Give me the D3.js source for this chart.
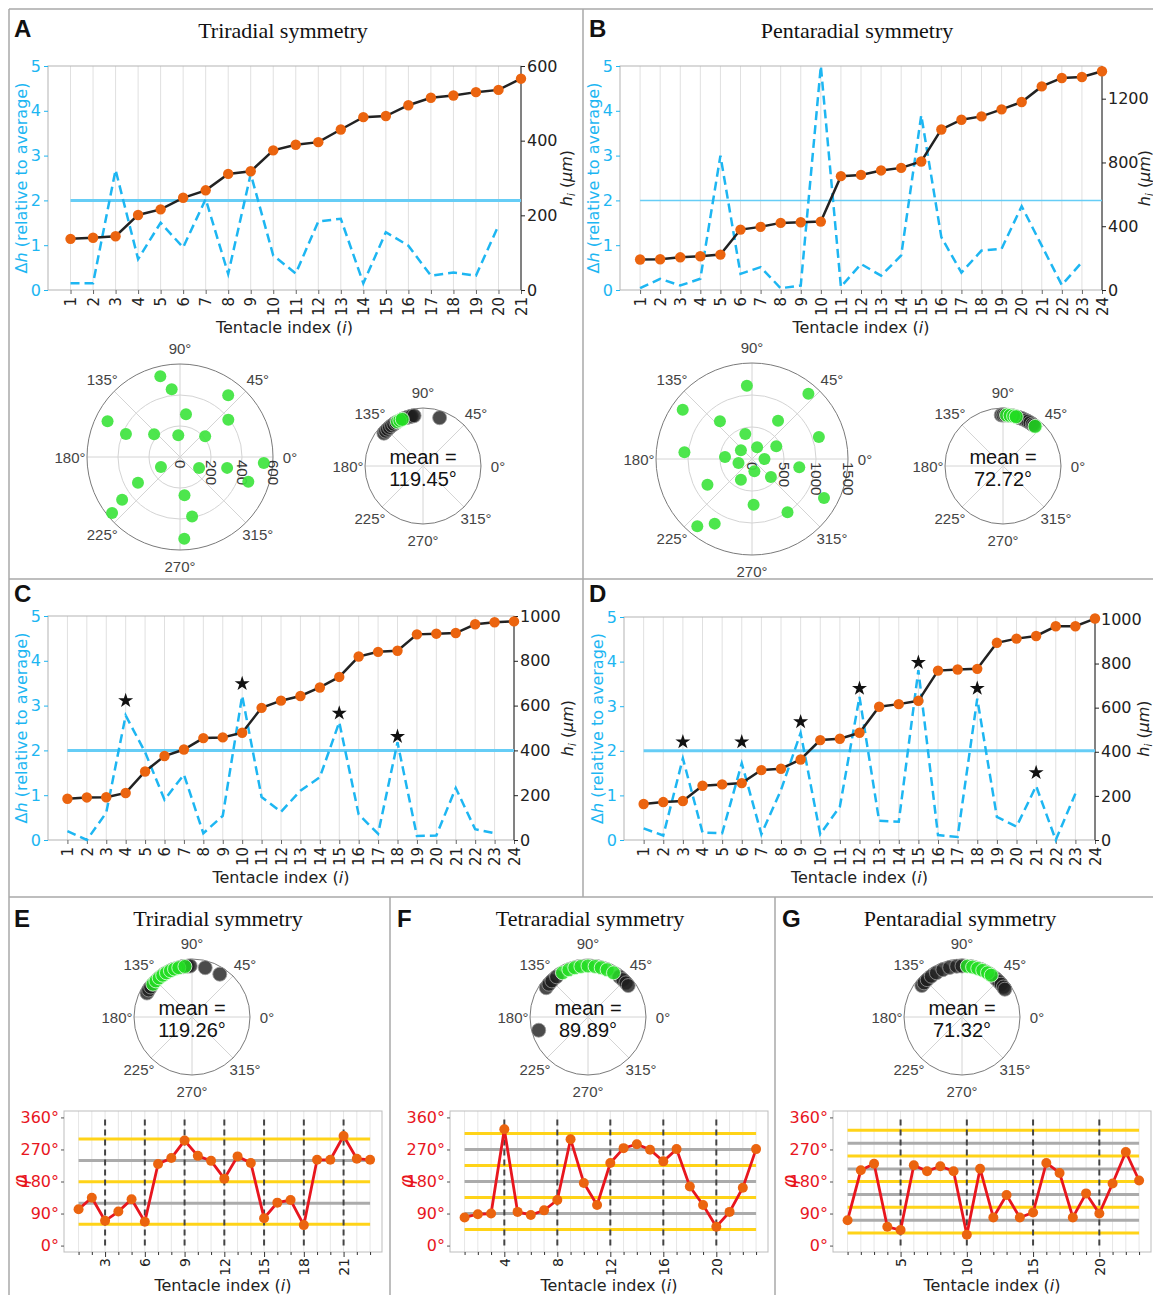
<!DOCTYPE html>
<html>
<head>
<meta charset="utf-8">
<script src="https://cdn.jsdelivr.net/npm/d3@7"></script>
<style>
  body { margin: 0; background: #fff; }
  svg { display: block; }
</style>
</head>
<body>
<div id="fig"></div>
<script>
// ---- data ----
const A_DH = [0.15, 0.15, 2.68, 0.69, 1.5, 0.95, 2.03, 0.36, 2.59, 0.77, 0.37, 1.53, 1.59, 0.15, 1.29, 0.99, 0.32, 0.39, 0.32, 1.44];
const A_H = [137, 140, 144, 201, 216, 247, 267, 311, 318, 374, 389, 396, 430, 463, 466, 495, 515, 521, 530, 536, 566];
const A_H_TICKS = [0, 200, 400, 600];

const B_DH = [0.04, 0.25, 0.1, 0.25, 3.0, 0.36, 0.51, 0.04, 0.1, 5.0, 0.07, 0.58, 0.32, 0.77, 3.9, 1.18, 0.39, 0.88, 0.92, 1.87, 0.99, 0.11, 0.62];
const B_H = [191, 193, 205, 212, 222, 379, 396, 421, 425, 429, 714, 722, 750, 766, 806, 1007, 1068, 1089, 1133, 1179, 1277, 1330, 1336, 1372];
const B_H_TICKS = [0, 400, 800, 1200];

const C_DH = [0.2, 0.0, 0.61, 2.78, 1.96, 0.9, 1.46, 0.15, 0.54, 3.22, 0.96, 0.63, 1.1, 1.4, 2.63, 0.57, 0.14, 2.18, 0.09, 0.1, 1.16, 0.24, 0.15];
const C_H = [184, 190, 191, 210, 306, 375, 404, 455, 458, 479, 590, 622, 643, 681, 728, 819, 840, 845, 918, 921, 924, 963, 972, 976];
const C_STAR_I = [4, 10, 15, 18];
const C_STAR_Y = [3.11, 3.49, 2.83, 2.31];

const D_DH = [0.26, 0.1, 1.83, 0.17, 0.15, 1.72, 0.13, 1.12, 2.4, 0.13, 0.75, 3.21, 0.43, 0.41, 3.81, 0.11, 0.07, 3.17, 0.52, 0.3, 1.21, 0.0, 1.04];
const D_H = [163, 172, 177, 246, 252, 258, 317, 323, 365, 453, 459, 486, 604, 616, 631, 768, 773, 776, 894, 913, 925, 969, 969, 1004];
const D_STAR_I = [3, 6, 9, 12, 15, 18, 21];
const D_STAR_Y = [2.2, 2.2, 2.65, 3.4, 3.98, 3.4, 1.51];
const CD_H_TICKS = [0, 200, 400, 600, 800, 1000];
const DH_TICKS = [0, 1, 2, 3, 4, 5];

const A_POL_ANG = [103.7, 97, 52, 82, 37.7, 153.8, 157, 138.8, 94.5, 39.4, 355.9, 207.8, 330, 347, 340, 211.5, 216.4, 219.5, 276.7, 281.5, 273];
const A_POL_R = [536, 440, 505, 278, 394, 521, 379, 222, 141, 210, 542, 139, 142, 312, 469, 318, 464, 568, 249, 391, 528];
const B_POL_ANG = [94, 49.2, 144.6, 130.4, 55.8, 18.2, 105, 174.3, 142, 66.4, 27.6, 175.8, 196.5, 0, 281, 350, 241.8, 316.4, 210, 331.6, 272, 303.7, 240, 230.9];
const B_POL_R = [1148, 1349, 1328, 773, 724, 1100, 405, 1061, 220, 199, 428, 423, 220, 195, 196, 750, 367, 408, 804, 1279, 714, 1000, 1166, 1355];

const A_MEAN_DARK = [140, 137, 134, 131, 128, 125, 122, 108, 105, 103, 100, 71];
const A_MEAN_GREEN = [120, 117, 114];
const B_MEAN_DARK = [92, 90, 88, 84, 72, 68, 64, 61, 58, 55, 53];
const B_MEAN_GREEN = [86, 82, 78, 75, 51];
const E_MEAN_DARK = [152, 148, 144, 100, 95, 92, 75, 57];
const E_MEAN_GREEN = [140, 135, 130, 125, 120, 115, 110, 105, 98];
const F_MEAN_DARK = [145, 140, 135, 128, 52, 47, 42, 38, 195];
const F_MEAN_GREEN = [120, 112, 105, 98, 90, 82, 75, 68, 60];
const G_MEAN_DARK = [142, 138, 133, 127, 120, 112, 104, 96, 90, 48, 44, 40, 36, 33];
const G_MEAN_GREEN = [84, 78, 72, 66, 60, 55];

const E_PHI = [102, 134.5, 69.6, 95.6, 130, 66.8, 229, 246, 295, 252, 238, 188, 250.5, 232, 77, 120.6, 128, 57.5, 241, 241, 308, 244, 241];
const F_PHI = [79, 88, 90, 326.6, 94.6, 86, 99, 128, 298.8, 176, 114, 231.9, 273.7, 284.8, 269, 236.6, 271, 166, 114, 53, 94.6, 162.4, 271];
const G_PHI = [71.4, 211.5, 230, 52.9, 43.6, 225.4, 208.7, 222.7, 208.7, 30.6, 216, 78.9, 142, 78.9, 92.8, 232, 204, 78.9, 146.6, 90, 174.4, 263, 182.8];
const E_GOLD = [59.63, 179.63, 299.63];
const E_GRAY = [119.26, 239.26];
const E_MARK = [3, 6, 9, 12, 15, 18, 21];
const F_GOLD = [44.95, 134.95, 224.95, 314.95];
const F_GRAY = [89.89, 179.89, 269.89];
const F_MARK = [4, 8, 12, 16, 20];
const G_GOLD = [35.66, 107.66, 179.66, 251.66, 323.66];
const G_GRAY = [71.32, 143.32, 215.32, 287.32];
const G_MARK = [5, 10, 15, 20];
const PHI_TICKS = [0, 90, 180, 270, 360];

// ---- colours ----
const BLUE = "#1DB6F2";
const BLUE_REF = "#66CDF6";
const ORANGE = "#EB640F";
const RED = "#E8161E";
const GOLD = "#FFD318";
const GREY_LINE = "#ABABAB";
const GREEN = "#3EE43E";
const SANS = "'DejaVu Sans'";
const ARIAL = "'Liberation Sans'";

const SVG = d3.select("#fig").append("svg").attr("width", 1153).attr("height", 1295);

// panel frame lines
const FRAME = [
  [9, 9, 1153, 9], [9, 9, 9, 1295], [583, 9, 583, 897],
  [9, 579, 1153, 579], [9, 897, 1153, 897], [390, 897, 390, 1295], [775, 897, 775, 1295]
];
SVG.selectAll(".frame").data(FRAME).enter().append("line")
  .attr("x1", d => d[0]).attr("y1", d => d[1]).attr("x2", d => d[2]).attr("y2", d => d[3])
  .attr("stroke", "#a8a8a8").attr("stroke-width", 1.5);

// panel letters and titles
const LETTERS = [["A", 14, 37], ["B", 589, 37], ["C", 14, 602], ["D", 589, 602], ["E", 14, 927], ["F", 397, 927], ["G", 782, 927]];
SVG.selectAll(".letter").data(LETTERS).enter().append("text")
  .attr("x", d => d[1]).attr("y", d => d[2]).text(d => d[0])
  .style("font", `bold 24px ${ARIAL}`).attr("fill", "#111");
const TITLES = [["Triradial symmetry", 283, 38], ["Pentaradial symmetry", 857, 38],
  ["Triradial symmetry", 218, 926], ["Tetraradial symmetry", 590, 926], ["Pentaradial symmetry", 960, 926]];
SVG.selectAll(".title").data(TITLES).enter().append("text")
  .attr("x", d => d[1]).attr("y", d => d[2]).attr("text-anchor", "middle").text(d => d[0])
  .style("font", "22px 'Liberation Serif'").attr("fill", "#111");

function xLabel(g, cx, y) {
  const t = g.append("text").attr("x", cx).attr("y", y).attr("text-anchor", "middle")
    .style("font", `16px ${SANS}`).attr("fill", "#222");
  t.append("tspan").text("Tentacle index (");
  t.append("tspan").style("font-style", "italic").text("i");
  t.append("tspan").text(")");
}

// ---- Δh / h charts ----
function dualChart(o) {
  const g = SVG.append("g");
  const n = o.h.length;
  const x = d3.scaleLinear().domain([0, n]).range([o.left, o.right]);
  const yL = d3.scaleLinear().domain([0, 5]).range([o.bottom, o.top]);
  const yR = d3.scaleLinear().domain([0, o.hMax]).range([o.bottom, o.top]);
  const idx = d3.range(1, n + 1);

  g.selectAll(".grid").data(idx).enter().append("line")
    .attr("x1", d => x(d)).attr("x2", d => x(d)).attr("y1", o.top).attr("y2", o.bottom)
    .attr("stroke", "#e0e0e0");
  g.append("rect").attr("x", o.left).attr("y", o.top)
    .attr("width", o.right - o.left).attr("height", o.bottom - o.top)
    .attr("fill", "none").attr("stroke", "#b3b3b3");
  g.append("line").attr("x1", o.right).attr("x2", o.right).attr("y1", o.top).attr("y2", o.bottom)
    .attr("stroke", "#333");

  const axB = g.append("g").attr("transform", `translate(0,${o.bottom})`)
    .call(d3.axisBottom(x).tickValues(idx).tickSize(4).tickFormat(d3.format("d")));
  axB.select(".domain").remove();
  axB.selectAll("line").attr("stroke", "#666");
  axB.selectAll("text").attr("transform", "rotate(-90)").attr("text-anchor", "end")
    .attr("x", -7).attr("y", 0).attr("dy", "0.35em")
    .style("font", `15px ${SANS}`).attr("fill", "#222");

  const axL = g.append("g").attr("transform", `translate(${o.left},0)`)
    .call(d3.axisLeft(yL).tickValues(DH_TICKS).tickSize(4).tickPadding(3).tickFormat(d3.format("d")));
  axL.select(".domain").remove();
  axL.selectAll("line").attr("stroke", BLUE);
  axL.selectAll("text").attr("fill", BLUE).style("font", `16px ${SANS}`);

  const axR = g.append("g").attr("transform", `translate(${o.right},0)`)
    .call(d3.axisRight(yR).tickValues(o.hTicks).tickSize(4).tickPadding(2).tickFormat(d3.format("d")));
  axR.select(".domain").remove();
  axR.selectAll("line").attr("stroke", "#222");
  axR.selectAll("text").attr("fill", "#222").style("font", `16px ${SANS}`);

  // labels
  const midY = (o.top + o.bottom) / 2;
  const lt = g.append("text").attr("transform", `translate(${o.left - 27},${midY}) rotate(-90)`)
    .attr("text-anchor", "middle").attr("dominant-baseline", "central")
    .style("font", `16px ${SANS}`).attr("fill", BLUE);
  lt.append("tspan").text("Δ");
  lt.append("tspan").style("font-style", "italic").text("h");
  lt.append("tspan").text(" (relative to average)");

  const rt = g.append("text").attr("transform", `translate(${o.right + o.rLab},${midY}) rotate(-90)`)
    .attr("text-anchor", "middle").attr("dominant-baseline", "central")
    .style("font", `16px ${SANS}`).attr("fill", "#222");
  rt.append("tspan").style("font-style", "italic").text("h");
  rt.append("tspan").style("font-style", "italic").style("font-size", "10px").attr("dy", 5).text("i");
  rt.append("tspan").attr("dy", -5).text("  (");
  rt.append("tspan").style("font-style", "italic").text("μm");
  rt.append("tspan").text(")");

  xLabel(g, (o.left + o.right) / 2, o.bottom + 43);

  // threshold line at Δh = 2
  g.append("line").attr("x1", x(1)).attr("x2", x(n)).attr("y1", yL(2)).attr("y2", yL(2))
    .attr("stroke", BLUE_REF).attr("stroke-width", o.refW);

  g.append("path").datum(o.dh)
    .attr("d", d3.line().x((d, i) => x(i + 1)).y(d => yL(d)))
    .attr("fill", "none").attr("stroke", BLUE).attr("stroke-width", 2.5)
    .attr("stroke-dasharray", "9,5");

  if (o.starI) {
    g.selectAll(".star").data(o.starI).enter().append("path")
      .attr("d", d3.symbol().type(d3.symbolStar).size(70))
      .attr("transform", (d, i) => `translate(${x(d)},${yL(o.starY[i])})`)
      .attr("fill", "#111");
  }

  g.append("path").datum(o.h)
    .attr("d", d3.line().x((d, i) => x(i + 1)).y(d => yR(d)))
    .attr("fill", "none").attr("stroke", "#222").attr("stroke-width", 2.5);
  g.selectAll(".hdot").data(o.h).enter().append("circle")
    .attr("cx", (d, i) => x(i + 1)).attr("cy", d => yR(d)).attr("r", 5.2)
    .attr("fill", ORANGE);
}

dualChart({ left: 48, right: 521, top: 66, bottom: 290, dh: A_DH, h: A_H, hMax: 600, hTicks: A_H_TICKS, rLab: 45, refW: 3 });
dualChart({ left: 620, right: 1102, top: 66, bottom: 290, dh: B_DH, h: B_H, hMax: 1405, hTicks: B_H_TICKS, rLab: 42, refW: 1.5 });
dualChart({ left: 48, right: 514, top: 616, bottom: 840, dh: C_DH, h: C_H, hMax: 1000, hTicks: CD_H_TICKS, rLab: 53, refW: 3, starI: C_STAR_I, starY: C_STAR_Y });
dualChart({ left: 624, right: 1095, top: 617, bottom: 840, dh: D_DH, h: D_H, hMax: 1011, hTicks: CD_H_TICKS, rLab: 48, refW: 3, starI: D_STAR_I, starY: D_STAR_Y });

// ---- polar plots ----
const rad = d => d * Math.PI / 180;

function polarBase(g, R) {
  g.selectAll(".spoke").data([0, 45, 90, 135]).enter().append("line")
    .attr("x1", d => -R * Math.cos(rad(d))).attr("y1", d => R * Math.sin(rad(d)))
    .attr("x2", d => R * Math.cos(rad(d))).attr("y2", d => -R * Math.sin(rad(d)))
    .attr("stroke", "#d4d4d4");
  g.append("circle").attr("r", R).attr("fill", "none").attr("stroke", "#7a7a7a");
  g.selectAll(".alab").data(d3.range(0, 360, 45)).enter().append("text")
    .attr("x", d => (R + 17) * Math.cos(rad(d))).attr("y", d => -(R + 16) * Math.sin(rad(d)))
    .attr("text-anchor", "middle").attr("dominant-baseline", "central")
    .style("font", `15px ${ARIAL}`).attr("fill", "#444").text(d => d + "°");
}

function bigPolar(o) {
  const g = SVG.append("g").attr("transform", `translate(${o.cx},${o.cy})`);
  const r = d3.scaleLinear().domain([0, o.rMax]).range([0, o.R]);
  g.selectAll(".ring").data(o.rTicks.slice(1, -1)).enter().append("circle")
    .attr("r", d => r(d)).attr("fill", "none").attr("stroke", "#d4d4d4");
  polarBase(g, o.R);
  g.selectAll(".rlab").data(o.rTicks).enter().append("text")
    .attr("transform", d => `translate(${r(d)},3) rotate(90)`)
    .attr("dominant-baseline", "central")
    .style("font", `15px ${ARIAL}`).attr("fill", "#333").text(d => d);
  g.selectAll(".pt").data(o.ang).enter().append("circle")
    .attr("cx", (d, i) => r(o.r[i]) * Math.cos(rad(d)))
    .attr("cy", (d, i) => -r(o.r[i]) * Math.sin(rad(d)))
    .attr("r", 6).attr("fill", GREEN).attr("opacity", 0.92);
}

function meanPolar(o) {
  const R = 58;
  const g = SVG.append("g").attr("transform", `translate(${o.cx},${o.cy})`);
  polarBase(g, R);
  const pr = R * 0.88;
  g.selectAll(".dk").data(o.dark).enter().append("circle")
    .attr("cx", d => pr * Math.cos(rad(d))).attr("cy", d => -pr * Math.sin(rad(d)))
    .attr("r", 7).attr("fill", "#1e1e1e").attr("fill-opacity", 0.8)
    .attr("stroke", "#9a9a9a").attr("stroke-width", 0.8);
  g.selectAll(".gr").data(o.green).enter().append("circle")
    .attr("cx", d => pr * Math.cos(rad(d))).attr("cy", d => -pr * Math.sin(rad(d)))
    .attr("r", 7).attr("fill", "#22DD22").attr("fill-opacity", 0.85)
    .attr("stroke", "#e8ffe8").attr("stroke-width", 0.8);
  g.append("text").attr("y", -9).attr("text-anchor", "middle").attr("dominant-baseline", "central")
    .style("font", `20px ${ARIAL}`).attr("fill", "#111").text("mean =");
  g.append("text").attr("y", 13).attr("text-anchor", "middle").attr("dominant-baseline", "central")
    .style("font", `20px ${ARIAL}`).attr("fill", "#111").text(o.mean);
}

bigPolar({ cx: 180, cy: 457, R: 93, rMax: 600, rTicks: [0, 200, 400, 600], ang: A_POL_ANG, r: A_POL_R });
bigPolar({ cx: 752, cy: 459, R: 96, rMax: 1500, rTicks: [0, 500, 1000, 1500], ang: B_POL_ANG, r: B_POL_R });
meanPolar({ cx: 423, cy: 466, dark: A_MEAN_DARK, green: A_MEAN_GREEN, mean: "119.45°" });
meanPolar({ cx: 1003, cy: 466, dark: B_MEAN_DARK, green: B_MEAN_GREEN, mean: "72.72°" });
meanPolar({ cx: 192, cy: 1017, dark: E_MEAN_DARK, green: E_MEAN_GREEN, mean: "119.26°" });
meanPolar({ cx: 588, cy: 1017, dark: F_MEAN_DARK, green: F_MEAN_GREEN, mean: "89.89°" });
meanPolar({ cx: 962, cy: 1017, dark: G_MEAN_DARK, green: G_MEAN_GREEN, mean: "71.32°" });

// ---- phase charts ----
function phaseChart(o) {
  const g = SVG.append("g");
  const top = 1111, bottom = 1252;
  const n = o.phi.length;
  const x = d3.scaleLinear().domain([-0.1, 23.9]).range([o.left, o.left + 318]);
  const y = d3.scaleLinear().domain([-18, 378]).range([bottom, top]);
  const idx = d3.range(1, n + 1);

  g.selectAll(".grid").data(idx).enter().append("line")
    .attr("x1", d => x(d)).attr("x2", d => x(d)).attr("y1", top).attr("y2", bottom)
    .attr("stroke", "#e6e6e6");
  g.append("rect").attr("x", o.left).attr("y", top).attr("width", 318).attr("height", bottom - top)
    .attr("fill", "none").attr("stroke", "#bdbdbd");

  const axB = g.append("g").attr("transform", `translate(0,${bottom})`)
    .call(d3.axisBottom(x).tickValues(idx).tickSize(3).tickFormat(d => o.marks.includes(d) ? d : ""));
  axB.select(".domain").remove();
  axB.selectAll("line").attr("stroke", "#333").attr("y2", d => o.marks.includes(d) ? 5 : 3);
  axB.selectAll("text").attr("transform", "rotate(-90)").attr("text-anchor", "end")
    .attr("x", -6).attr("y", 0).attr("dy", "0.35em")
    .style("font", `14px ${SANS}`).attr("fill", "#222");

  const axL = g.append("g").attr("transform", `translate(${o.left},0)`)
    .call(d3.axisLeft(y).tickValues(PHI_TICKS).tickSize(3).tickPadding(2).tickFormat(d => d + "°"));
  axL.select(".domain").remove();
  axL.selectAll("line").attr("stroke", "#555");
  axL.selectAll("text").attr("fill", RED).style("font", `16px ${SANS}`);

  g.append("text").attr("transform", `translate(${o.left - 44},${y(180)}) rotate(-90)`)
    .attr("text-anchor", "middle").attr("dominant-baseline", "central")
    .style("font", `italic 20px ${SANS}`).attr("fill", RED).text("φ");

  xLabel(g, o.left + 159, 1291);

  g.selectAll(".gray").data(o.gray).enter().append("line")
    .attr("x1", x(1)).attr("x2", x(n)).attr("y1", d => y(d)).attr("y2", d => y(d))
    .attr("stroke", GREY_LINE).attr("stroke-width", 3);
  g.selectAll(".gold").data(o.gold).enter().append("line")
    .attr("x1", x(1)).attr("x2", x(n)).attr("y1", d => y(d)).attr("y2", d => y(d))
    .attr("stroke", GOLD).attr("stroke-width", 3);
  g.selectAll(".mark").data(o.marks).enter().append("line")
    .attr("x1", d => x(d)).attr("x2", d => x(d)).attr("y1", y(0)).attr("y2", y(360))
    .attr("stroke", "#444").attr("stroke-width", 2).attr("stroke-dasharray", "6,4");

  g.append("path").datum(o.phi)
    .attr("d", d3.line().x((d, i) => x(i + 1)).y(d => y(d)))
    .attr("fill", "none").attr("stroke", RED).attr("stroke-width", 2.8);
  g.selectAll(".dot").data(o.phi).enter().append("circle")
    .attr("cx", (d, i) => x(i + 1)).attr("cy", d => y(d)).attr("r", 5)
    .attr("fill", ORANGE);
}

phaseChart({ left: 64, phi: E_PHI, gold: E_GOLD, gray: E_GRAY, marks: E_MARK });
phaseChart({ left: 450, phi: F_PHI, gold: F_GOLD, gray: F_GRAY, marks: F_MARK });
phaseChart({ left: 833, phi: G_PHI, gold: G_GOLD, gray: G_GRAY, marks: G_MARK });
</script>
</body>
</html>
